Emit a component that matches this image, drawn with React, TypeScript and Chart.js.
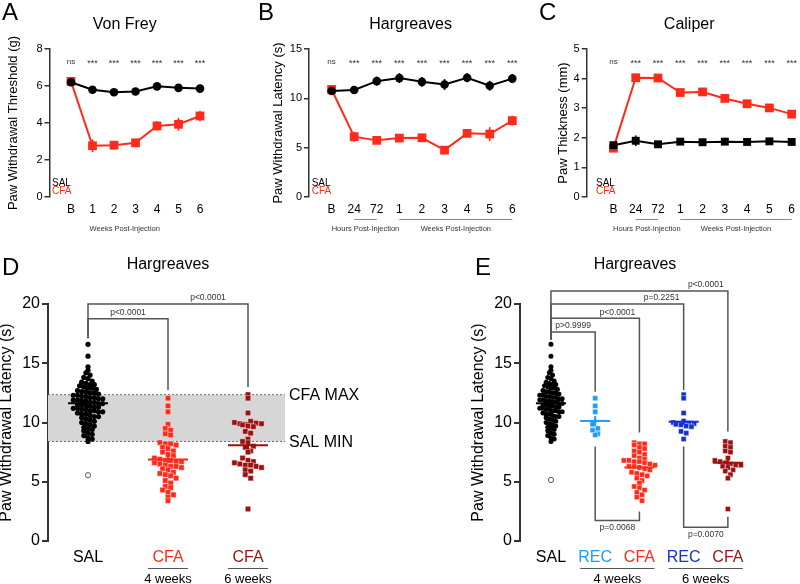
import React, { useEffect, useRef } from 'react';
import { Chart, registerables } from 'chart.js';

Chart.register(...registerables);

const FONT = '"Liberation Sans", Arial, Helvetica, sans-serif';
Chart.defaults.font.family = FONT;

const BLACK = '#000000';
const RED = '#ff2a1a';
const DARKRED = '#9b1111';
const LIGHTBLUE = '#1e9bff';
const BLUE = '#1530cf';
const AXIS = '#333333';
const TXT = '#333333';

// ---------- Panel A: Von Frey ----------
const catsA = ['B', '1', '2', '3', '4', '5', '6'];
const salA = [6.2, 5.8, 5.66, 5.7, 5.98, 5.9, 5.86];
const salErrA = [0.15, 0.08, 0.08, 0.08, 0.08, 0.08, 0.08];
const cfaA = [6.25, 2.77, 2.8, 2.93, 3.84, 3.93, 4.38];
const cfaErrA = [0.15, 0.35, 0.22, 0.12, 0.25, 0.35, 0.28];
const starsA = ['ns', '***', '***', '***', '***', '***', '***'];

// ---------- Panel B: Hargreaves ----------
const catsBC = ['B', '24', '72', '1', '2', '3', '4', '5', '6'];
const salB = [10.75, 10.85, 11.74, 12.05, 11.67, 11.4, 12.08, 11.27, 12.0];
const salErrB = [0.4, 0.4, 0.45, 0.5, 0.5, 0.55, 0.45, 0.5, 0.45];
const cfaB = [10.9, 6.11, 5.74, 5.97, 6.0, 4.75, 6.45, 6.38, 7.74];
const cfaErrB = [0.3, 0.5, 0.35, 0.4, 0.3, 0.2, 0.4, 0.7, 0.5];
const starsBC = ['ns', '***', '***', '***', '***', '***', '***', '***', '***'];

// ---------- Panel C: Caliper ----------
const salC = [1.75, 1.9, 1.78, 1.87, 1.85, 1.87, 1.86, 1.88, 1.86];
const salErrC = [0.1, 0.18, 0.08, 0.06, 0.06, 0.06, 0.06, 0.06, 0.06];
const cfaC = [1.65, 4.03, 4.02, 3.53, 3.55, 3.33, 3.15, 3.01, 2.8];
const cfaErrC = [0.05, 0.1, 0.1, 0.1, 0.08, 0.06, 0.06, 0.06, 0.06];

const groupsA = [{ label: 'Weeks Post-Injection', at: 2.5 }];
const groupsBC = [
  { label: 'Hours Post-Injection', at: 1.5, from: 1, to: 2 },
  { label: 'Weeks Post-Injection', at: 5.5, from: 3, to: 8 },
];

// ---------- Panels D, E: Hargreaves individual values ----------
const salLatency = [
  16.6, 15.6, 14.7, 14.4, 14.2, 14.0, 13.8, 13.7, 13.5, 13.4,
  13.3, 13.2, 13.2, 13.1, 13.0, 12.9, 12.9, 12.8, 12.7, 12.6,
  12.6, 12.5, 12.5, 12.4, 12.3, 12.3, 12.2, 12.2, 12.1, 12.1,
  12.0, 12.0, 11.9, 11.9, 11.8, 11.8, 11.7, 11.7, 11.6, 11.6,
  11.5, 11.5, 11.4, 11.4, 11.3, 11.3, 11.2, 11.2, 11.1, 11.1,
  11.0, 11.0, 10.9, 10.9, 10.8, 10.7, 10.7, 10.6, 10.5, 10.5,
  10.4, 10.3, 10.2, 10.1, 10.0, 9.9, 9.8, 9.7, 9.6, 9.5,
  9.4, 9.3, 9.1, 9.0, 8.9, 8.7, 8.6, 8.4,
];
const rec4Latency = [12.05, 11.4, 10.9, 9.85, 9.5, 9.35, 9.05, 8.95];
const cfa4Latency = [
  8.3, 8.2, 8.2, 8.1, 7.9, 7.8, 7.6, 7.5, 7.3, 7.2,
  7.0, 6.9, 6.8, 6.8, 6.7, 6.7, 6.6, 6.5, 6.4, 6.3,
  6.3, 6.2, 6.1, 6.0, 5.8, 5.7, 5.6, 5.5, 5.3, 5.1,
  4.9, 4.6, 4.5, 4.3, 4.1, 3.9, 3.7, 3.4,
];
const rec6Latency = [12.35, 12.05, 10.8, 10.0, 9.9, 9.85, 10.1, 9.95, 9.9, 9.8, 9.7, 9.65, 9.25, 9.1, 8.6];
const cfa6Latency = [8.4, 8.3, 8.0, 7.9, 7.6, 7.5, 7.0, 6.8, 6.7, 6.6, 6.5, 6.4, 6.4, 6.3, 6.2, 6.0, 5.9, 5.6, 5.3, 2.7];
const salOutlierD = [5.55];
const salOutlierE = [5.15];

const catsD = ['SAL', 'CFA', 'CFA'];
const catsE = ['SAL', 'REC', 'CFA', 'REC', 'CFA'];
const colorsD = [BLACK, RED, DARKRED];
const colorsE = [BLACK, LIGHTBLUE, RED, BLUE, DARKRED];

const bracketsD = [
  { from: 0, to: 1, top: 18.75, fromEnd: 17.1, toEnd: 12.75, label: 'p<0.0001', below: false },
  { from: 0, to: 2, top: 20.0, fromEnd: 17.1, toEnd: 13.0, label: 'p<0.0001', below: false },
];
const bracketsE = [
  { from: 0, to: 4, top: 21.1, fromEnd: 17.0, toEnd: 9.25, label: 'p<0.0001', below: false },
  { from: 0, to: 3, top: 20.0, fromEnd: 17.0, toEnd: 12.75, label: 'p=0.2251', below: false },
  { from: 0, to: 2, top: 18.8, fromEnd: 17.0, toEnd: 9.15, label: 'p<0.0001', below: false },
  { from: 0, to: 1, top: 17.63, fromEnd: 17.0, toEnd: 12.6, label: 'p>0.9999', below: false },
  { from: 1, to: 2, top: 1.72, fromEnd: 7.97, toEnd: 2.48, label: 'p=0.0068', below: true },
  { from: 3, to: 4, top: 1.15, fromEnd: 7.97, toEnd: 2.05, label: 'p=0.0070', below: true },
];
const weeksD = [
  { from: 1, to: 1, label: '4 weeks' },
  { from: 2, to: 2, label: '6 weeks' },
];
const weeksE = [
  { from: 1, to: 2, label: '4 weeks' },
  { from: 3, to: 4, label: '6 weeks' },
];

// ---------- helpers ----------
const mean = (a: number[]) => a.reduce((s, v) => s + v, 0) / a.length;
const sem = (a: number[]) => {
  const m = mean(a);
  const sd = Math.sqrt(a.reduce((s, v) => s + (v - m) * (v - m), 0) / (a.length - 1));
  return sd / Math.sqrt(a.length);
};

// row-based scatter layout (GraphPad-like), deterministic from the values
function rowSwarm(values: number[], idx: number, yPx: number, xPx: number, rowH: number, step: number) {
  const rows = new Map<number, number[]>();
  values.forEach((v, i) => {
    const k = Math.round((v * yPx) / rowH);
    if (!rows.has(k)) rows.set(k, []);
    rows.get(k)!.push(i);
  });
  const pts: { x: number; y: number }[] = [];
  rows.forEach((ids) => {
    const n = ids.length;
    ids.forEach((id, k) => {
      const off = (k - (n - 1) / 2) * step;
      pts.push({ x: idx + off / xPx, y: values[id] });
    });
  });
  return pts;
}

// ---------- top panels ----------
type TopPanel = {
  letter: string; title: string; yLabel: string; cats: string[];
  sal: number[]; salErr: number[]; cfa: number[]; cfaErr: number[];
  stars: string[]; yMax: number; yStep: number; salStyle: string; xMin: number;
  groups: { label: string; at: number; from?: number; to?: number }[];
  lay: { left: number; w: number; padL: number; yW: number; padR: number; letterX: number; legDx: number };
};

const TOP_H = 245;
const TOP_PAD_T = 49;
const TOP_XH = 48;

const topPanels: TopPanel[] = [
  {
    letter: 'A', title: 'Von Frey', yLabel: 'Paw Withdrawal Threshold (g)', cats: catsA,
    sal: salA, salErr: salErrA, cfa: cfaA, cfaErr: cfaErrA, stars: starsA,
    yMax: 8, yStep: 2, salStyle: 'circle', xMin: -1, groups: groupsA,
    lay: { left: 0, w: 255, padL: 5.2, yW: 44.3, padR: 55, letterX: 2, legDx: 2.5 },
  },
  {
    letter: 'B', title: 'Hargreaves', yLabel: 'Paw Withdrawal Latency (s)', cats: catsBC,
    sal: salB, salErr: salErrB, cfa: cfaB, cfaErr: cfaErrB, stars: starsBC,
    yMax: 15, yStep: 5, salStyle: 'circle', xMin: -1, groups: groupsBC,
    lay: { left: 255, w: 275, padL: 15.2, yW: 38.8, padR: 17.7, letterX: 3, legDx: 2.7 },
  },
  {
    letter: 'C', title: 'Caliper', yLabel: 'Paw Thickness (mm)', cats: catsBC,
    sal: salC, salErr: salErrC, cfa: cfaC, cfaErr: cfaErrC, stars: starsBC,
    yMax: 5, yStep: 1, salStyle: 'rect', xMin: -1.2, groups: groupsBC,
    lay: { left: 530, w: 270, padL: 25.5, yW: 31.2, padR: 5, letterX: 9, legDx: 9.3 },
  },
];

function topPlugin(p: TopPanel) {
  return {
    id: 'topAnn' + p.letter,
    beforeDatasetsDraw(chart: any) {
      const { ctx, scales: { x, y } } = chart;
      ctx.save();
      const sets: [number[], number[], string][] = [[p.cfa, p.cfaErr, RED], [p.sal, p.salErr, BLACK]];
      sets.forEach(([vals, errs, col]) => {
        ctx.strokeStyle = col;
        ctx.lineWidth = 1.6;
        vals.forEach((v, i) => {
          const px = x.getPixelForValue(i);
          ctx.beginPath();
          ctx.moveTo(px, y.getPixelForValue(v - errs[i]));
          ctx.lineTo(px, y.getPixelForValue(v + errs[i]));
          ctx.stroke();
        });
      });
      ctx.restore();
    },
    afterDraw(chart: any) {
      const { ctx, chartArea: ca, scales: { x } } = chart;
      ctx.save();
      ctx.fillStyle = BLACK;
      ctx.font = `24px ${FONT}`;
      ctx.textAlign = 'left';
      ctx.textBaseline = 'alphabetic';
      ctx.fillText(p.letter, p.lay.letterX, 20);

      ctx.font = `16px ${FONT}`;
      ctx.textAlign = 'center';
      ctx.textBaseline = 'middle';
      ctx.fillText(p.title, (ca.left + ca.right) / 2, ca.top - 24);

      ctx.fillStyle = TXT;
      p.stars.forEach((s, i) => {
        ctx.font = `${s === 'ns' ? 8 : 9}px ${FONT}`;
        ctx.fillText(s, x.getPixelForValue(i), ca.top + (s === 'ns' ? 13 : 15));
      });

      ctx.textAlign = 'left';
      ctx.font = `10px ${FONT}`;
      ctx.fillStyle = BLACK;
      ctx.fillText('SAL', ca.left + p.lay.legDx, ca.bottom - 14);
      ctx.fillStyle = RED;
      ctx.fillText('CFA', ca.left + p.lay.legDx, ca.bottom - 5.5);

      ctx.font = `7.5px ${FONT}`;
      ctx.fillStyle = TXT;
      ctx.textAlign = 'center';
      p.groups.forEach((g) => {
        if (g.from !== undefined && g.to !== undefined) {
          ctx.strokeStyle = '#8a8a8a';
          ctx.lineWidth = 1;
          ctx.beginPath();
          ctx.moveTo(x.getPixelForValue(g.from), ca.bottom + 22.5);
          ctx.lineTo(x.getPixelForValue(g.to), ca.bottom + 22.5);
          ctx.stroke();
        }
        ctx.fillText(g.label, x.getPixelForValue(g.at), ca.bottom + 32);
      });
      ctx.restore();
    },
  };
}

function topConfig(p: TopPanel): any {
  const L = p.lay;
  const toPts = (arr: number[]) => arr.map((v, i) => ({ x: i, y: v }));
  return {
    type: 'line',
    data: {
      datasets: [
        {
          data: toPts(p.sal), borderColor: BLACK, backgroundColor: BLACK, borderWidth: 2,
          pointStyle: p.salStyle, pointRadius: p.salStyle === 'rect' ? 5.6 : 4.3,
          pointBackgroundColor: BLACK, pointBorderWidth: 0, clip: false, order: 1,
        },
        {
          data: toPts(p.cfa), borderColor: RED, backgroundColor: RED, borderWidth: 2,
          pointStyle: 'rect', pointRadius: 6.2, pointBackgroundColor: RED, pointBorderWidth: 0,
          clip: false, order: 2,
        },
      ],
    },
    options: {
      animation: false,
      responsive: false,
      events: [],
      layout: { padding: { left: L.padL, right: L.padR, top: TOP_PAD_T, bottom: 0 } },
      plugins: { legend: { display: false }, tooltip: { enabled: false }, title: { display: false } },
      scales: {
        x: {
          type: 'linear', min: p.xMin, max: p.cats.length - 1,
          afterBuildTicks: (s: any) => { s.ticks = p.cats.map((_, i) => ({ value: i })); },
          ticks: {
            callback: (v: any) => p.cats[Math.round(v)], autoSkip: false, maxRotation: 0,
            font: { size: 12 }, color: BLACK, padding: 5,
          },
          grid: { display: false, drawTicks: false },
          border: { display: false },
          afterFit: (s: any) => { s.height = TOP_XH; },
        },
        y: {
          min: 0, max: p.yMax,
          ticks: { stepSize: p.yStep, font: { size: 11 }, color: BLACK, padding: 2 },
          grid: { drawOnChartArea: false, drawTicks: true, tickLength: 5, color: AXIS, lineWidth: 1.5 },
          border: { display: true, color: AXIS, width: 1.5 },
          title: { display: true, text: p.yLabel, font: { size: 13, lineHeight: 1.2 }, color: BLACK, padding: 0 },
          afterFit: (s: any) => { s.width = L.yW; },
        },
      },
    },
    plugins: [topPlugin(p)],
  };
}

// ---------- bottom panels ----------
type DotGroup = { values: number[]; color: string; style: string; rowH: number; step: number };
type DotPanel = {
  letter: string; cats: string[]; colors: string[]; groups: DotGroup[]; outlier: number[];
  brackets: typeof bracketsE; weeks: typeof weeksE; weeksExt: number; band: null | { max: number; min: number };
  xMin: number; xMax: number; meanHalf: number; dotR: number; sqR: number;
  lay: { left: number; w: number; padL: number; yW: number; padR: number; letterX: number };
};

const BOT_H = 339;
const BOT_PAD_T = 59;
const BOT_XH = 43;
const Y_PX = 11.84;

const cfa4All = [...rec4Latency, ...cfa4Latency];
const cfa6All = [...rec6Latency, ...cfa6Latency];

const panelD: DotPanel = {
  letter: 'D', cats: catsD, colors: colorsD,
  groups: [
    { values: salLatency, color: BLACK, style: 'circle', rowH: 4.5, step: 4.2 },
    { values: cfa4All, color: RED, style: 'rect', rowH: 5.4, step: 5.4 },
    { values: cfa6All, color: DARKRED, style: 'rect', rowH: 5.4, step: 5.4 },
  ],
  outlier: salOutlierD, brackets: bracketsD, weeks: weeksD, weeksExt: 20,
  band: { max: Math.max(...cfa4All, ...cfa6All), min: Math.min(...salLatency) },
  xMin: -0.5, xMax: 2.5, meanHalf: 0.25, dotR: 2.6, sqR: 3.8,
  lay: { left: 0, w: 400, padL: 0, yW: 48, padR: 112, letterX: 2 },
};

const panelE: DotPanel = {
  letter: 'E', cats: catsE, colors: colorsE,
  groups: [
    { values: salLatency, color: BLACK, style: 'circle', rowH: 4.5, step: 3.2 },
    { values: rec4Latency, color: LIGHTBLUE, style: 'rect', rowH: 5.2, step: 5.2 },
    { values: cfa4Latency, color: RED, style: 'rect', rowH: 5.2, step: 5.2 },
    { values: rec6Latency, color: BLUE, style: 'rect', rowH: 5.2, step: 5.2 },
    { values: cfa6Latency, color: DARKRED, style: 'rect', rowH: 5.2, step: 5.2 },
  ],
  outlier: salOutlierE, brackets: bracketsE, weeks: weeksE, weeksExt: 15, band: null,
  xMin: -0.7, xMax: 4.5, meanHalf: 0.34, dotR: 2.5, sqR: 3.6,
  lay: { left: 400, w: 400, padL: 72, yW: 48, padR: 50, letterX: 75 },
};

function dotPlugin(p: DotPanel) {
  return {
    id: 'dotAnn' + p.letter,
    beforeDatasetsDraw(chart: any) {
      if (!p.band) return;
      const { ctx, chartArea: ca, scales: { y } } = chart;
      const yt = y.getPixelForValue(p.band.max);
      const yb = y.getPixelForValue(p.band.min);
      ctx.save();
      ctx.fillStyle = '#d6d6d6';
      ctx.fillRect(ca.left, yt, ca.right - 3 - ca.left, yb - yt);
      ctx.strokeStyle = '#6a6a6a';
      ctx.lineWidth = 1;
      ctx.setLineDash([2, 2]);
      [yt, yb].forEach((yy) => {
        ctx.beginPath();
        ctx.moveTo(ca.left, yy);
        ctx.lineTo(ca.right - 3, yy);
        ctx.stroke();
      });
      ctx.restore();
    },
    afterDraw(chart: any) {
      const { ctx, chartArea: ca, scales: { x, y } } = chart;
      ctx.save();
      ctx.fillStyle = BLACK;
      ctx.font = `24px ${FONT}`;
      ctx.textAlign = 'left';
      ctx.textBaseline = 'alphabetic';
      ctx.fillText(p.letter, p.lay.letterX, 30);

      ctx.font = `16px ${FONT}`;
      ctx.textAlign = 'center';
      ctx.textBaseline = 'middle';
      ctx.fillText('Hargreaves', (ca.left + ca.right) / 2, ca.top - 39);

      if (p.band) {
        ctx.textAlign = 'left';
        ctx.fillText('CFA MAX', ca.right + 1, y.getPixelForValue(p.band.max) + 1);
        ctx.fillText('SAL MIN', ca.right + 1, y.getPixelForValue(p.band.min) + 1);
      }

      // significance brackets
      ctx.strokeStyle = '#555555';
      ctx.lineWidth = 1.5;
      ctx.fillStyle = TXT;
      ctx.font = `8.5px ${FONT}`;
      ctx.textAlign = 'center';
      p.brackets.forEach((b) => {
        const x0 = x.getPixelForValue(b.from);
        const x1 = x.getPixelForValue(b.to);
        const yt = y.getPixelForValue(b.top);
        ctx.beginPath();
        ctx.moveTo(x0, y.getPixelForValue(b.fromEnd));
        ctx.lineTo(x0, yt);
        ctx.lineTo(x1, yt);
        ctx.lineTo(x1, y.getPixelForValue(b.toEnd));
        ctx.stroke();
        const lx = b.below ? x.getPixelForValue((b.from + b.to) / 2) : x.getPixelForValue(b.to - 0.5);
        ctx.fillText(b.label, lx, yt + (b.below ? 7 : -6));
      });

      // time-point underlines
      ctx.strokeStyle = '#555555';
      ctx.lineWidth = 1;
      ctx.fillStyle = BLACK;
      ctx.font = `13px ${FONT}`;
      p.weeks.forEach((w) => {
        const x0 = x.getPixelForValue(w.from) - p.weeksExt;
        const x1 = x.getPixelForValue(w.to) + p.weeksExt;
        ctx.beginPath();
        ctx.moveTo(x0, ca.bottom + 27.5);
        ctx.lineTo(x1, ca.bottom + 27.5);
        ctx.stroke();
        ctx.fillText(w.label, (x0 + x1) / 2, ca.bottom + 38.5);
      });
      ctx.restore();
    },
  };
}

function dotConfig(p: DotPanel): any {
  const L = p.lay;
  const plotW = L.w - L.padL - L.yW - L.padR;
  const xPx = plotW / (p.xMax - p.xMin);
  const datasets: any[] = [];
  p.groups.forEach((g, gi) => {
    const m = mean(g.values);
    const se = sem(g.values);
    datasets.push({
      data: rowSwarm(g.values, gi, Y_PX, xPx, g.rowH, g.step),
      pointStyle: g.style,
      pointRadius: g.style === 'rect' ? p.sqR : p.dotR,
      pointBackgroundColor: g.color,
      pointBorderColor: g.style === 'rect' ? 'rgba(255,255,255,0.7)' : g.color,
      pointBorderWidth: g.style === 'rect' ? 0.6 : 0,
      showLine: false, clip: false, order: 3,
    });
    datasets.push({
      data: [{ x: gi - p.meanHalf, y: m }, { x: gi + p.meanHalf, y: m }],
      showLine: true, borderColor: g.color, borderWidth: 2, pointRadius: 0, clip: false, order: 1,
    });
    datasets.push({
      data: [{ x: gi, y: m - se }, { x: gi, y: m + se }],
      showLine: true, borderColor: g.color, borderWidth: 2, pointRadius: 0, clip: false, order: 1,
    });
  });
  datasets.push({
    data: p.outlier.map((v) => ({ x: 0, y: v })),
    pointStyle: 'circle', pointRadius: 2.6, pointBackgroundColor: '#ffffff',
    pointBorderColor: '#555555', pointBorderWidth: 1, showLine: false, clip: false, order: 3,
  });

  return {
    type: 'scatter',
    data: { datasets },
    options: {
      animation: false,
      responsive: false,
      events: [],
      layout: { padding: { left: L.padL, right: L.padR, top: BOT_PAD_T, bottom: 0 } },
      plugins: { legend: { display: false }, tooltip: { enabled: false }, title: { display: false } },
      scales: {
        x: {
          type: 'linear', min: p.xMin, max: p.xMax,
          afterBuildTicks: (s: any) => { s.ticks = p.cats.map((_, i) => ({ value: i })); },
          ticks: {
            callback: (v: any) => p.cats[Math.round(v)], autoSkip: false, maxRotation: 0,
            font: { size: 16 }, color: (c: any) => p.colors[c.index] || BLACK, padding: 7,
          },
          grid: { display: false, drawTicks: false },
          border: { display: false },
          afterFit: (s: any) => { s.height = BOT_XH; },
        },
        y: {
          min: 0, max: 20,
          ticks: { stepSize: 5, font: { size: 16 }, color: BLACK, padding: 2 },
          grid: { drawOnChartArea: false, drawTicks: true, tickLength: 6, color: AXIS, lineWidth: 2 },
          border: { display: true, color: AXIS, width: 2 },
          title: { display: true, text: 'Paw Withdrawal Latency (s)', font: { size: 16, lineHeight: 0.875 }, color: BLACK, padding: 0 },
          afterFit: (s: any) => { s.width = L.yW; },
        },
      },
    },
    plugins: [dotPlugin(p)],
  };
}

function ChartCanvas({ make, left, top, width, height }: { make: () => any; left: number; top: number; width: number; height: number }) {
  const ref = useRef<HTMLCanvasElement>(null);
  useEffect(() => {
    const chart = new Chart(ref.current as HTMLCanvasElement, make());
    return () => chart.destroy();
  }, []);
  return (
    <canvas
      ref={ref}
      width={width}
      height={height}
      style={{ position: 'absolute', left, top, width, height, display: 'block' }}
    />
  );
}

export default function App() {
  return (
    <div style={{ position: 'fixed', left: 0, top: 0, width: 800, height: 584, background: '#ffffff', overflow: 'hidden' }}>
      {topPanels.map((p) => (
        <ChartCanvas key={p.letter} make={() => topConfig(p)} left={p.lay.left} top={0} width={p.lay.w} height={TOP_H} />
      ))}
      <ChartCanvas make={() => dotConfig(panelD)} left={0} top={245} width={400} height={BOT_H} />
      <ChartCanvas make={() => dotConfig(panelE)} left={400} top={245} width={400} height={BOT_H} />
    </div>
  );
}
